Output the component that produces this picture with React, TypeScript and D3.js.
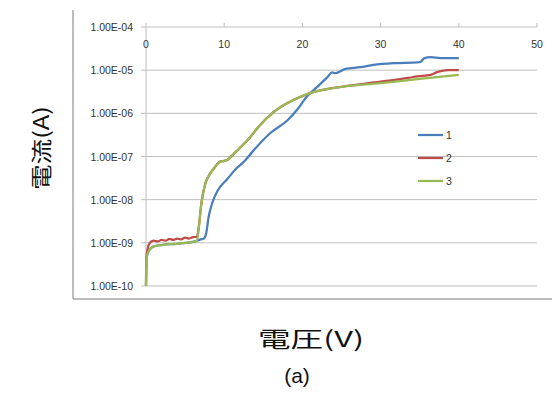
import * as d3 from 'd3';

// voltage (V) / current (A)
const volts1 = [0, 0.05, 0.2, 0.5, 1, 2, 3, 4, 5, 6, 6.5, 7, 7.4, 7.7, 8, 8.5, 9.2, 10.4, 11.6, 12.4, 13.7, 15.9, 18.1, 19.4, 20.6, 21.9, 23.2, 23.8, 24.2, 25.5, 27.4, 29.1, 31.7, 34.7, 35.1, 35.6, 36.4, 37.7, 40];
const amps1 = [1e-10, 4.0e-10, 5.6e-10, 7.1e-10, 8.3e-10, 8.9e-10, 9.3e-10, 9.5e-10, 1.0e-9, 1.05e-9, 1.12e-9, 1.2e-9, 1.26e-9, 1.66e-9, 3.9e-9, 8.7e-9, 1.66e-8, 3.0e-8, 5.4e-8, 7.2e-8, 1.35e-7, 3.5e-7, 6.9e-7, 1.26e-6, 2.5e-6, 4.1e-6, 6.9e-6, 8.9e-6, 8.5e-6, 1.07e-5, 1.17e-5, 1.32e-5, 1.45e-5, 1.51e-5, 1.55e-5, 1.9e-5, 2.0e-5, 1.9e-5, 1.9e-5];

const volts2 = [0, 0.05, 0.2, 0.5, 1, 1.5, 2, 2.5, 3, 3.5, 4, 4.5, 5, 5.5, 6, 6.5, 6.8, 7, 7.3, 7.6, 8, 8.5, 9, 9.5, 10, 10.5, 11, 12, 13, 14.6, 16.3, 18.1, 19.7, 21.4, 23, 25, 30, 33.5, 34.7, 36.4, 37.3, 38.6, 40];
const amps2 = [1e-10, 4.5e-10, 7.1e-10, 1.0e-9, 1.12e-9, 1.08e-9, 1.17e-9, 1.12e-9, 1.23e-9, 1.17e-9, 1.26e-9, 1.2e-9, 1.32e-9, 1.26e-9, 1.35e-9, 1.38e-9, 2.8e-9, 6.3e-9, 1.41e-8, 2.4e-8, 3.5e-8, 4.8e-8, 6.3e-8, 7.6e-8, 7.9e-8, 8.5e-8, 1.05e-7, 1.58e-7, 2.4e-7, 5.4e-7, 1.07e-6, 1.74e-6, 2.4e-6, 3.1e-6, 3.6e-6, 4.1e-6, 5.4e-6, 6.6e-6, 7.2e-6, 7.8e-6, 9.1e-6, 1.0e-5, 1.0e-5];

const volts3 = [0, 0.05, 0.2, 0.5, 1, 2, 3, 4, 5, 6, 6.5, 6.8, 7, 7.3, 7.6, 8, 8.5, 9, 9.5, 10, 10.5, 11, 12, 13, 14.6, 16.3, 18.1, 19.7, 21.4, 23, 25, 30, 35, 40];
const amps3 = [1e-10, 4.0e-10, 5.6e-10, 7.1e-10, 8.3e-10, 8.9e-10, 9.3e-10, 9.5e-10, 1.0e-9, 1.05e-9, 1.12e-9, 2.5e-9, 6.3e-9, 1.41e-8, 2.4e-8, 3.5e-8, 4.8e-8, 6.3e-8, 7.6e-8, 7.9e-8, 8.5e-8, 1.05e-7, 1.58e-7, 2.4e-7, 5.4e-7, 1.07e-6, 1.74e-6, 2.4e-6, 3.1e-6, 3.6e-6, 4.1e-6, 5.0e-6, 6.3e-6, 7.8e-6];

const seriesNames = ['1', '2', '3'];
const seriesColors = ['#4a7ebb', '#be4b48', '#98b954'];
const xTicks = [0, 10, 20, 30, 40, 50];
const yTicks = [1e-4, 1e-5, 1e-6, 1e-7, 1e-8, 1e-9, 1e-10];
const yTickLabels = ['1.00E-04', '1.00E-05', '1.00E-06', '1.00E-07', '1.00E-08', '1.00E-09', '1.00E-10'];

export default function App() {
  const x = d3.scaleLinear().domain([0, 50]).range([146, 537]);
  const y = d3.scaleLog().domain([1e-10, 1e-4]).range([286, 27]);

  const line = d3
    .line<[number, number]>()
    .x((d) => x(d[0]))
    .y((d) => y(d[1]))
    .curve(d3.curveMonotoneX);

  const series = [
    volts1.map((v, i) => [v, amps1[i]] as [number, number]),
    volts2.map((v, i) => [v, amps2[i]] as [number, number]),
    volts3.map((v, i) => [v, amps3[i]] as [number, number]),
  ];

  const tickFont = { fontFamily: 'Arial, "Liberation Sans"', fontSize: 10.5, fill: '#333' };
  const cjkFont = '"Noto Sans CJK JP", "Noto Sans CJK SC", sans-serif';

  return (
    <svg width={552} height={394} style={{ position: 'absolute', left: 0, top: 0, background: '#fff' }}>
      {/* chart frame */}
      <line x1={73} y1={10} x2={73} y2={299} stroke='#a6a6a6' strokeWidth={1.5} />
      <line x1={73} y1={299} x2={552} y2={299} stroke='#a6a6a6' strokeWidth={1.5} />

      {/* gridlines */}
      <g stroke='#bfbfbf' strokeWidth={1}>
        {yTicks.map((t, i) => (
          <line key={`g${i}`} x1={141} x2={537} y1={y(t)} y2={y(t)} />
        ))}
      </g>
      {/* axes */}
      <line x1={x(0)} x2={x(0)} y1={y(1e-4)} y2={y(1e-10)} stroke='#bfbfbf' />
      <g stroke='#bfbfbf'>
        {xTicks.map((t, i) => (
          <line key={`xt${i}`} x1={x(t)} x2={x(t)} y1={y(1e-4) - 4} y2={y(1e-4)} />
        ))}
      </g>

      <g style={tickFont} textAnchor='end'>
        {yTicks.map((t, i) => (
          <text key={`yl${i}`} x={133} y={y(t)} dominantBaseline='central'>
            {yTickLabels[i]}
          </text>
        ))}
      </g>
      <g style={tickFont} textAnchor='middle'>
        {xTicks.map((t, i) => (
          <text key={`xl${i}`} x={x(t)} y={44} dominantBaseline='central'>
            {t}
          </text>
        ))}
      </g>

      {/* data */}
      <g fill='none' strokeWidth={2.25} strokeLinejoin='round'>
        {series.map((s, i) => (
          <path key={`s${i}`} d={line(s) ?? ''} stroke={seriesColors[i]} />
        ))}
      </g>

      {/* legend */}
      {seriesNames.map((n, i) => (
        <g key={`lg${i}`} transform={`translate(418, ${135 + i * 23})`}>
          <line x1={0} x2={25} y1={0} y2={0} stroke={seriesColors[i]} strokeWidth={2.25} />
          <text x={28} y={0} dominantBaseline='central' style={tickFont}>
            {n}
          </text>
        </g>
      ))}

      {/* titles */}
      <text
        transform='translate(40, 148) rotate(-90)'
        textAnchor='middle'
        dominantBaseline='central'
        textLength={84}
        lengthAdjust='spacingAndGlyphs'
        style={{ fontFamily: cjkFont, fontSize: 21, fontWeight: 400, fill: '#111' }}
      >
        電流(A)
      </text>
      <text
        x={311}
        y={347}
        textAnchor='middle'
        textLength={106}
        lengthAdjust='spacingAndGlyphs'
        style={{ fontFamily: cjkFont, fontSize: 22, fontWeight: 400, fill: '#111' }}
      >
        電圧(V)
      </text>
      <text x={297} y={383} textAnchor='middle' style={{ fontFamily: 'Arial, "Liberation Sans"', fontSize: 21, fill: '#111' }}>
        (a)
      </text>
    </svg>
  );
}
